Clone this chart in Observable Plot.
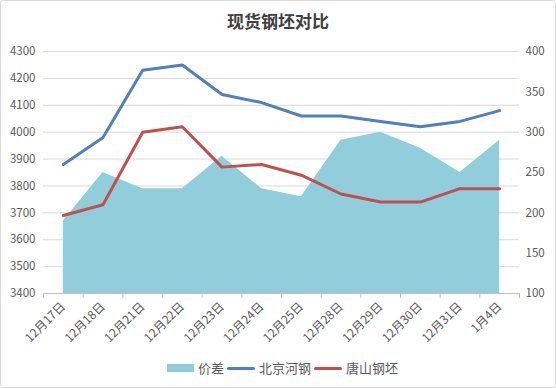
<!DOCTYPE html>
<html><head><meta charset="utf-8">
<script src="https://cdn.jsdelivr.net/npm/d3@7"></script>
<script src="https://cdn.jsdelivr.net/npm/@observablehq/plot@0.6"></script>
<style>
body{margin:0;background:#fff;}
#wrap{position:relative;width:556px;height:388px;font-family:"Noto Sans CJK SC",sans-serif;overflow:hidden;background:#fff}
#frame{position:absolute;left:0;top:0;width:556px;height:388px;box-sizing:border-box;border:1px solid #d9d9d9;border-radius:3px;pointer-events:none}
#title{position:absolute;top:9px;left:0;width:556px;text-align:center;font-size:17px;font-weight:bold;color:#404040;line-height:24px}
#chart{position:absolute;left:0;top:0}
#legend{position:absolute;top:359px;left:167px;display:flex;align-items:center;font-size:13px;color:#595959;line-height:18px}
.sw{display:inline-block;margin-right:4px}
.lab{margin-right:3px}
</style></head>
<body>
<div id="wrap">
  <div id="chart"></div>
  <div id="title">现货钢坯对比</div>
  <div id="legend">
    <span class="sw" style="width:27px;height:8px;background:#92cddc"></span><span class="lab">价差</span>
    <span class="sw" style="width:28px;height:3px;background:#4f81bd;border-radius:2px"></span><span class="lab">北京河钢</span>
    <span class="sw" style="width:28px;height:3px;background:#c0504d;border-radius:2px"></span><span class="lab">唐山钢坯</span>
  </div>
  <div id="frame"></div>
</div>
<script>
const dates = ["12月17日","12月18日","12月21日","12月22日","12月23日","12月24日","12月25日","12月28日","12月29日","12月30日","12月31日","1月4日"];
const beijing = [3880,3980,4230,4250,4140,4110,4060,4060,4040,4020,4040,4080];
const tangshan = [3690,3730,4000,4020,3870,3880,3840,3770,3740,3740,3790,3790];
const spread = [190,250,230,230,270,230,220,290,300,280,250,290];
const leftTicks = [3400,3500,3600,3700,3800,3900,4000,4100,4200,4300];
const rightTicks = [100,150,200,250,300,350,400];

// right axis (100–400) mapped onto left axis (3400–4300)
const toLeft = v => 3400 + (v - 100) * 3;
const rows = dates.map((d, i) => ({i, d, bj: beijing[i], ts: tangshan[i], sp: toLeft(spread[i])}));
const idx = dates.map((d, i) => i);
const bounds = dates.map((d, i) => i - 0.5).concat([dates.length - 0.5]);

const chart = Plot.plot({
  width: 556, height: 350,
  marginTop: 51, marginLeft: 43, marginRight: 37, marginBottom: 57,
  x: {type: "linear", domain: [-0.5, dates.length - 0.5], label: null},
  y: {domain: [3400, 4300], label: null},
  style: {fontFamily: "'Noto Sans CJK SC', sans-serif", fontSize: "11px", color: "#595959", background: "transparent"},
  marks: [
    Plot.ruleY(leftTicks.slice(1), {stroke: "#d9d9d9", strokeWidth: 1}),
    Plot.areaY(rows, {x: "i", y1: 3400, y2: "sp", fill: "#92cddc"}),
    Plot.ruleY([3400], {stroke: "#bfbfbf", strokeWidth: 1}),
    Plot.axisX(bounds, {tickSize: 5, tickFormat: () => "", stroke: "#bfbfbf", label: null}),
    Plot.axisX(idx, {tickSize: 0, tickPadding: 11, tickRotate: -45, tickFormat: i => dates[i], fill: "#595959", fontSize: 12, label: null}),
    Plot.axisY(leftTicks, {anchor: "left", tickSize: 0, tickPadding: 8, tickFormat: d => String(d), fill: "#595959", fontSize: 11.5, label: null}),
    Plot.axisY(rightTicks.map(toLeft), {anchor: "right", tickSize: 0, tickPadding: 6, tickFormat: (v, i) => String(rightTicks[i]), fill: "#595959", fontSize: 11.5, label: null}),
    Plot.lineY(rows, {x: "i", y: "bj", stroke: "#4f81bd", strokeWidth: 3}),
    Plot.lineY(rows, {x: "i", y: "ts", stroke: "#c0504d", strokeWidth: 3})
  ]
});
document.getElementById("chart").appendChild(chart);
</script>
</body></html>
